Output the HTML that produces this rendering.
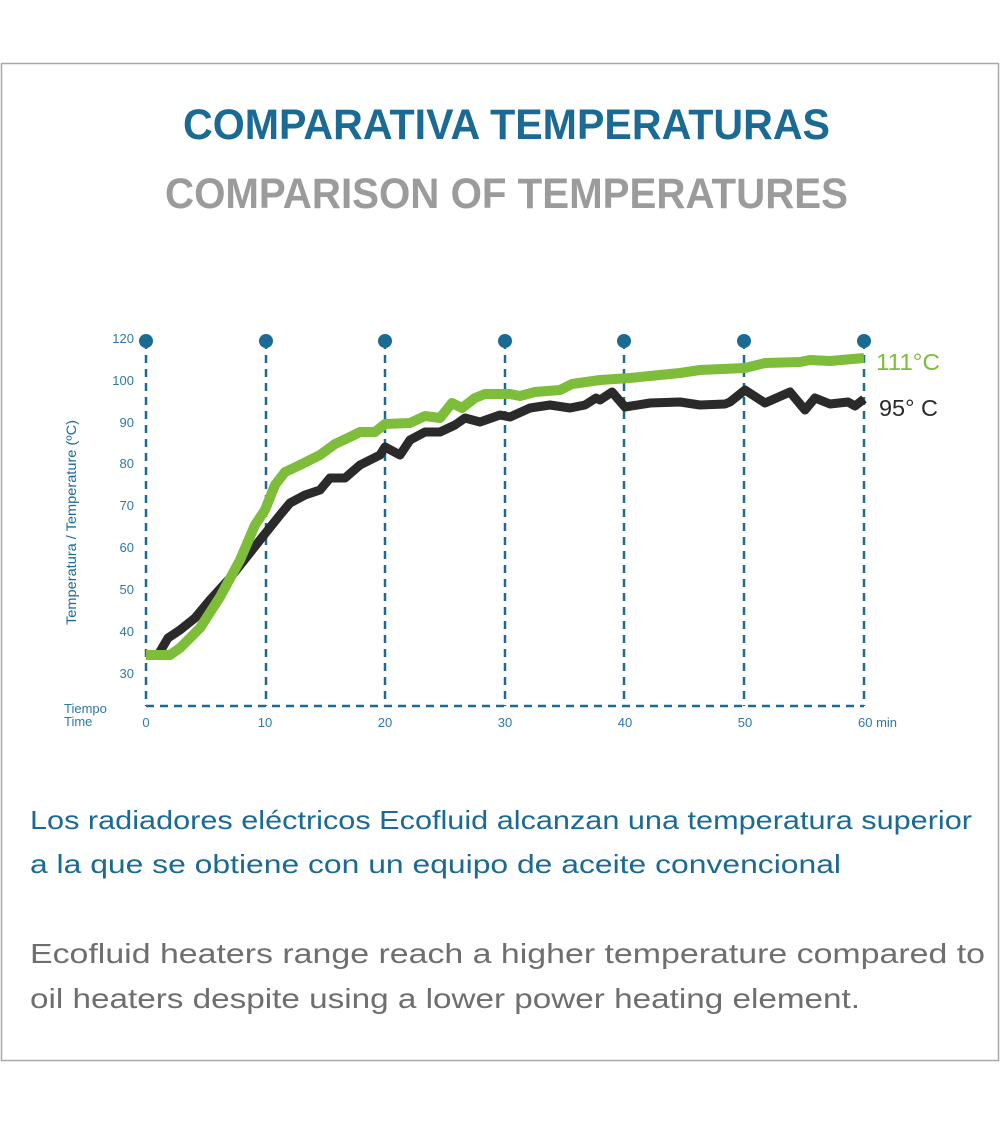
<!DOCTYPE html>
<html><head><meta charset="utf-8"><style>
html,body{margin:0;padding:0;background:#fff;}
svg{display:block;}
text{font-family:"Liberation Sans",sans-serif;}
</style></head><body>
<svg width="1000" height="1125" viewBox="0 0 1000 1125" xmlns="http://www.w3.org/2000/svg">
<rect x="0" y="0" width="1000" height="1125" fill="#fff"/>
<rect x="1.5" y="63.5" width="997" height="997" fill="none" stroke="#a8a8a8" stroke-width="1.5"/>
<text x="183" y="139" font-size="43" font-weight="bold" fill="#1b6a94" textLength="647" lengthAdjust="spacingAndGlyphs">COMPARATIVA TEMPERATURAS</text>
<text x="165" y="208" font-size="43" font-weight="bold" fill="#9b9b9b" textLength="683" lengthAdjust="spacingAndGlyphs">COMPARISON OF TEMPERATURES</text>

<g stroke="#1b6a94" stroke-width="2.5" stroke-dasharray="8,6" fill="none">
<line x1="146" y1="341" x2="146" y2="706"/>
<line x1="266" y1="341" x2="266" y2="706"/>
<line x1="385" y1="341" x2="385" y2="706"/>
<line x1="505" y1="341" x2="505" y2="706"/>
<line x1="624" y1="341" x2="624" y2="706"/>
<line x1="744" y1="341" x2="744" y2="706"/>
<line x1="864" y1="341" x2="864" y2="706"/>
<line x1="146" y1="706" x2="864" y2="706"/>
</g>
<g fill="#1b6a94">
<circle cx="146" cy="341" r="7"/><circle cx="266" cy="341" r="7"/><circle cx="385" cy="341" r="7"/><circle cx="505" cy="341" r="7"/><circle cx="624" cy="341" r="7"/><circle cx="744" cy="341" r="7"/><circle cx="864" cy="341" r="7"/>
</g>
<g font-size="13" fill="#2e78a8" text-anchor="end">
<text x="134" y="343">120</text><text x="134" y="385">100</text><text x="134" y="427">90</text><text x="134" y="468">80</text><text x="134" y="510">70</text><text x="134" y="552">60</text><text x="134" y="594">50</text><text x="134" y="636">40</text><text x="134" y="678">30</text>
</g>
<g font-size="13" fill="#2e78a8" text-anchor="middle">
<text x="146" y="727">0</text><text x="265" y="727">10</text><text x="385" y="727">20</text><text x="505" y="727">30</text><text x="625" y="727">40</text><text x="745" y="727">50</text>
</g>
<text x="858" y="727" font-size="13" fill="#2e78a8">60 min</text>
<text x="64" y="713" font-size="13" fill="#2e78a8">Tiempo</text>
<text x="64" y="726" font-size="13" fill="#2e78a8">Time</text>
<text transform="translate(76,625) rotate(-90)" font-size="14" fill="#1b6a94" textLength="205" lengthAdjust="spacingAndGlyphs">Temperatura / Temperature (ºC)</text>

<polyline fill="none" stroke="#2a2a2a" stroke-width="9" stroke-linejoin="round" points="146,655 158,655 168,638 180,630 195,618 210,600 230,578 260,540 280,515 290,503 305,495 320,490 330,478 345,478 360,465 380,455 385,447 400,455 410,440 425,432 440,432 455,425 465,418 480,422 500,415 510,417 530,408 550,405 570,408 585,405 596,398 600,400 612,392 625,407 650,403 680,402 700,405 725,404 730,402 745,390 765,403 790,392 805,410 815,398 830,404 848,402 855,406 864,399"/>
<polyline fill="none" stroke="#7dbd3a" stroke-width="10" stroke-linejoin="round" points="146,655 170,655 180,648 200,628 220,597 240,560 255,525 265,510 275,485 285,472 300,465 320,455 335,444 350,437 360,432 375,432 385,424 410,423 425,416 440,418 452,403 462,408 475,398 485,394 510,394 520,396 535,392 560,390 572,384 600,380 630,378 650,376 680,373 700,370 745,368 765,363 800,362 810,360 830,361 864,358"/>
<text x="876" y="370" font-size="23" fill="#7dbd3a" textLength="64" lengthAdjust="spacingAndGlyphs">111°C</text>
<text x="879" y="416" font-size="23" fill="#2a2a2a" textLength="59" lengthAdjust="spacingAndGlyphs">95° C</text>

<text x="30" y="829" font-size="26" fill="#1b6a94" textLength="942" lengthAdjust="spacingAndGlyphs">Los radiadores eléctricos Ecofluid alcanzan una temperatura superior</text>
<text x="30" y="873" font-size="26" fill="#1b6a94" textLength="811" lengthAdjust="spacingAndGlyphs">a la que se obtiene con un equipo de aceite convencional</text>
<text x="30" y="963" font-size="28" fill="#6e6e6e" textLength="955" lengthAdjust="spacingAndGlyphs">Ecofluid heaters range reach a higher temperature compared to</text>
<text x="30" y="1008" font-size="28" fill="#6e6e6e" textLength="830" lengthAdjust="spacingAndGlyphs">oil heaters despite using a lower power heating element.</text>
</svg>
</body></html>
